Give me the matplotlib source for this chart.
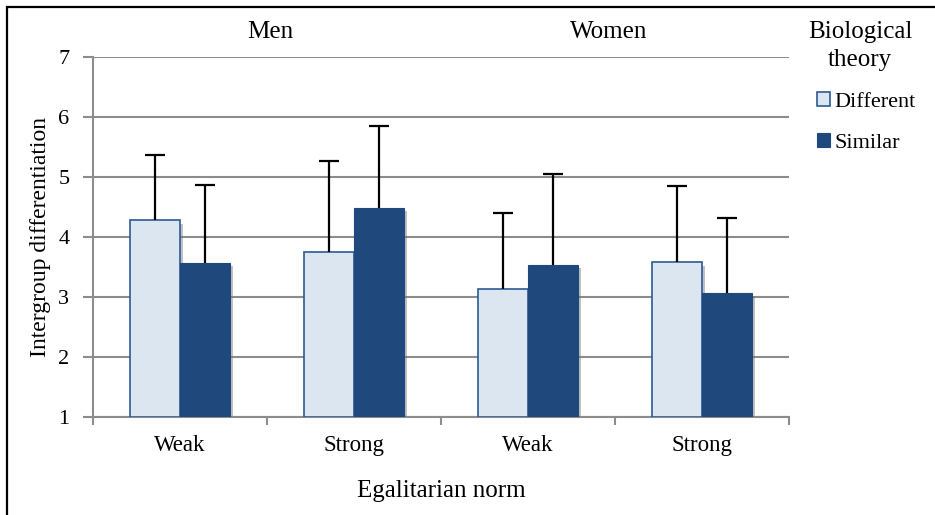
import matplotlib
matplotlib.use("Agg")
import matplotlib.pyplot as plt
import matplotlib.patheffects as pe
from matplotlib.patches import Rectangle
import numpy as np

# Data
groups = ["Men", "Women"]
norm_levels = ["Weak", "Strong", "Weak", "Strong"]
series_names = ["Different", "Similar"]
different_mean = [4.28, 3.75, 3.13, 3.58]
different_upper = [5.36, 5.26, 4.40, 4.85]
similar_mean = [3.57, 4.49, 3.54, 3.07]
similar_upper = [4.86, 5.85, 5.05, 4.32]

light_fill = "#dce6f1"
dark_fill = "#1f497d"
edge_col = "#2c5a94"
grid_col = "#8c8c8c"
serif = ["Liberation Serif", "DejaVu Serif"]

W, H = 935, 515
fig = plt.figure(figsize=(W / 100, H / 100), dpi=100)
ax = fig.add_axes([93 / W, 1 - 417 / H, (789 - 93) / W, (417 - 57) / H])

x = np.arange(len(norm_levels))
bw = 0.285
shadow = [pe.SimplePatchShadow(offset=(2.5, -2.5), shadow_rgbFace="#777777", alpha=0.45), pe.Normal()]

base = 1.0
d_heights = np.array(different_mean) - base
s_heights = np.array(similar_mean) - base
b1 = ax.bar(x - bw / 2, d_heights, bw, bottom=base, color=light_fill, edgecolor=edge_col,
            linewidth=1.2, label=series_names[0], zorder=3)
b2 = ax.bar(x + bw / 2, s_heights, bw, bottom=base, color=dark_fill, edgecolor=dark_fill,
            linewidth=0.8, label=series_names[1], zorder=3)
for r in list(b1) + list(b2):
    r.set_path_effects(shadow)

# Upper-only error bars (lower caps hidden)
d_err = np.array(different_upper) - np.array(different_mean)
s_err = np.array(similar_upper) - np.array(similar_mean)
for xs, means, err in [(x - bw / 2, different_mean, d_err), (x + bw / 2, similar_mean, s_err)]:
    _, caps, _ = ax.errorbar(xs, means, yerr=[np.zeros_like(err), err], fmt="none",
                             ecolor="black", elinewidth=1.6, capsize=7.5, capthick=1.6, zorder=4)
    caps[0].set_visible(False)

ax.set_xlim(-0.5, 3.5)
ax.set_ylim(1, 7)
ax.set_yticks(range(1, 8))
ax.yaxis.grid(True, color=grid_col, linewidth=1.5, zorder=0)
ax.set_axisbelow(True)
for s in ["top", "right"]:
    ax.spines[s].set_visible(False)
for s in ["left", "bottom"]:
    ax.spines[s].set_color(grid_col)
    ax.spines[s].set_linewidth(1.5)

ax.tick_params(axis="y", length=7, width=1.5, color=grid_col, pad=10, labelsize=16)
for lab in ax.get_yticklabels():
    lab.set_fontfamily(serif)

ax.set_xticks(x)
ax.set_xticklabels(norm_levels, fontsize=16.5, fontfamily=serif)
ax.tick_params(axis="x", length=0, pad=13)
ax.set_xticks(np.arange(-0.5, 4.0, 1.0), minor=True)
ax.tick_params(axis="x", which="minor", length=6, width=1.5, color=grid_col, direction="out")

ax.set_ylabel("Intergroup differentiation", fontsize=17, fontfamily=serif, labelpad=5)
fig.text(441 / W, 1 - 491 / H, "Egalitarian norm", fontsize=18, fontfamily=serif,
         ha="center", va="center")

# Group headings
fig.text(270 / W, 1 - 32 / H, groups[0], fontsize=18, fontfamily=serif, ha="center", va="center")
fig.text(609 / W, 1 - 32 / H, groups[1], fontsize=18, fontfamily=serif, ha="center", va="center")

# Legend
fig.text(860 / W, 1 - 46 / H, "Biological\ntheory", fontsize=18, fontfamily=serif,
         ha="center", va="center", linespacing=1.4)
leg = fig.legend(handles=[b1, b2], labels=series_names,
                 loc="upper left", bbox_to_anchor=(817 / W, 1 - 92 / H), frameon=False,
                 borderpad=0, borderaxespad=0,
                 prop={"family": serif, "size": 16},
                 handlelength=0.6, handleheight=0.6, handletextpad=0.2, labelspacing=0.95)
for h in leg.legend_handles:
    h.set_path_effects([])

# Outer border
fig.patches.append(Rectangle((6.5 / W, -0.1), 1.2, 1 - 6.5 / H + 0.1, transform=fig.transFigure,
                             fill=False, edgecolor="black", linewidth=1.6))

fig.savefig("out.png", dpi=100)
